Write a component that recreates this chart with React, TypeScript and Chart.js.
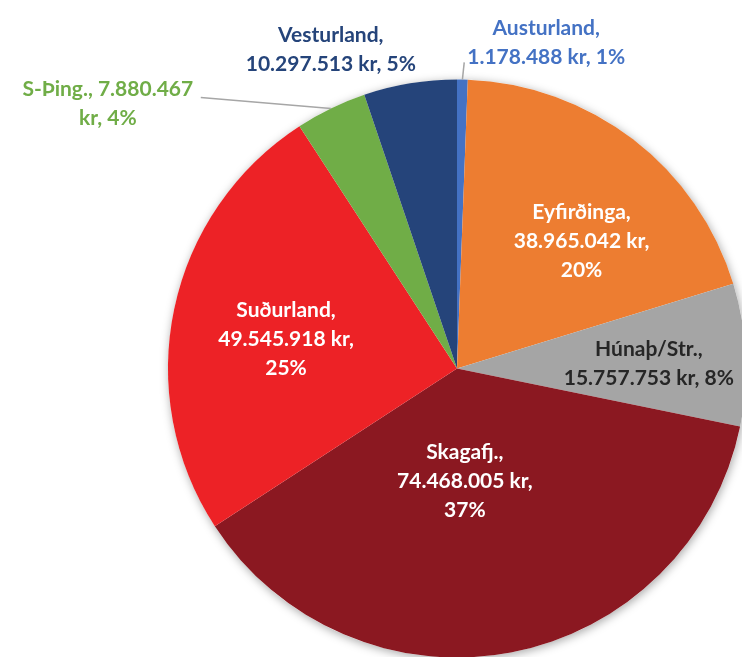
import React, { useEffect, useRef } from "react";
import { Chart, registerables } from "chart.js";

Chart.register(...registerables);

const categories = ["Austurland", "Eyfirðinga", "Húnaþ/Str.", "Skagafj.", "Suðurland", "S-Þing.", "Vesturland"];
const values = [1178488, 38965042, 15757753, 74468005, 49545918, 7880467, 10297513];
const percentLabels = [1, 20, 8, 37, 25, 4, 5];
const colors = ["#4472C4", "#ED7D31", "#A5A5A5", "#8B1821", "#ED2226", "#70AD47", "#25447A"];
const labelColors = ["#4472C4", "#FFFFFF", "#262626", "#FFFFFF", "#FFFFFF", "#70AD47", "#25447A"];
// how each label is broken into lines
const labelModes = ["two", "three", "two", "three", "three", "split", "two"];
// label placement: angle (deg clockwise from top), distance as fraction of radius
const labelAngles = [15.3, 44.3, 88.5, 176, 279.6, 307.2, 338.4];
const labelRadii = [1.17, 0.617, 0.664, 0.39, 0.6, 1.517, 1.186];
// leader line start offset from label centre (null = none)
const leaderStarts: (number[] | null)[] = [[-82, 20], null, null, null, null, [93, -6], null];

const FONT = "bold 21px Lato";
const LINE_H = 29;

function fmt(v: number) {
  return String(v).replace(/\B(?=(\d{3})+(?!\d))/g, ".");
}

function labelLines(i: number): string[] {
  const name = categories[i];
  const val = fmt(values[i]);
  const pct = percentLabels[i] + "%";
  const mode = labelModes[i];
  if (mode === "three") return [name + ",", val + " kr,", pct];
  if (mode === "split") return [name + ", " + val, "kr, " + pct];
  return [name + ",", val + " kr, " + pct];
}

const piePlugin = {
  id: "pieExtras",
  beforeDatasetsDraw(chart: any) {
    const meta = chart.getDatasetMeta(0);
    const a = meta.data[0];
    if (!a) return;
    const { x, y, outerRadius } = a.getProps(["x", "y", "outerRadius"], true);
    const ctx = chart.ctx;
    ctx.save();
    ctx.shadowColor = "rgba(0,0,0,0.35)";
    ctx.shadowBlur = 10;
    ctx.shadowOffsetX = 1;
    ctx.shadowOffsetY = 2;
    ctx.beginPath();
    ctx.arc(x, y, outerRadius, 0, Math.PI * 2);
    ctx.fillStyle = "#ffffff";
    ctx.fill();
    ctx.restore();
  },
  afterDatasetsDraw(chart: any) {
    const meta = chart.getDatasetMeta(0);
    const ctx = chart.ctx;
    meta.data.forEach((arc: any, i: number) => {
      const { x, y, outerRadius, startAngle, endAngle } = arc.getProps(
        ["x", "y", "outerRadius", "startAngle", "endAngle"],
        true
      );
      const ang = (labelAngles[i] * Math.PI) / 180;
      const r = labelRadii[i] * outerRadius;
      const cx = x + r * Math.sin(ang);
      const cy = y - r * Math.cos(ang);
      const lines = labelLines(i);
      const ls = leaderStarts[i];
      if (ls) {
        const mid = (startAngle + endAngle) / 2;
        ctx.save();
        ctx.strokeStyle = "#A6A6A6";
        ctx.lineWidth = 1.5;
        ctx.beginPath();
        ctx.moveTo(cx + ls[0], cy + ls[1]);
        ctx.lineTo(x + outerRadius * Math.cos(mid), y + outerRadius * Math.sin(mid));
        ctx.stroke();
        ctx.restore();
      }
      ctx.save();
      ctx.font = FONT;
      ctx.fillStyle = labelColors[i];
      ctx.textAlign = "center";
      ctx.textBaseline = "middle";
      const top = cy - ((lines.length - 1) * LINE_H) / 2;
      lines.forEach((t, k) => ctx.fillText(t, cx, top + k * LINE_H));
      ctx.restore();
    });
  },
};

export default function App() {
  const ref = useRef<HTMLCanvasElement>(null);
  useEffect(() => {
    if (!ref.current) return;
    const chart = new Chart(ref.current, {
      type: "pie",
      data: {
        labels: categories,
        datasets: [
          {
            data: values,
            backgroundColor: colors,
            borderWidth: 0,
          },
        ],
      },
      options: {
        animation: false,
        responsive: false,
        devicePixelRatio: 1,
        radius: 289,
        layout: { padding: { left: 172, top: 80, right: 0, bottom: 0 } },
        plugins: {
          legend: { display: false },
          tooltip: { enabled: false },
        },
      } as any,
      plugins: [piePlugin],
    });
    return () => chart.destroy();
  }, []);
  return (
    <div
      style={{
        position: "fixed",
        left: 0,
        top: 0,
        width: 742,
        height: 657,
        overflow: "hidden",
        background: "#ffffff",
      }}
    >
      <canvas ref={ref} width={742} height={657} style={{ display: "block" }} />
    </div>
  );
}
